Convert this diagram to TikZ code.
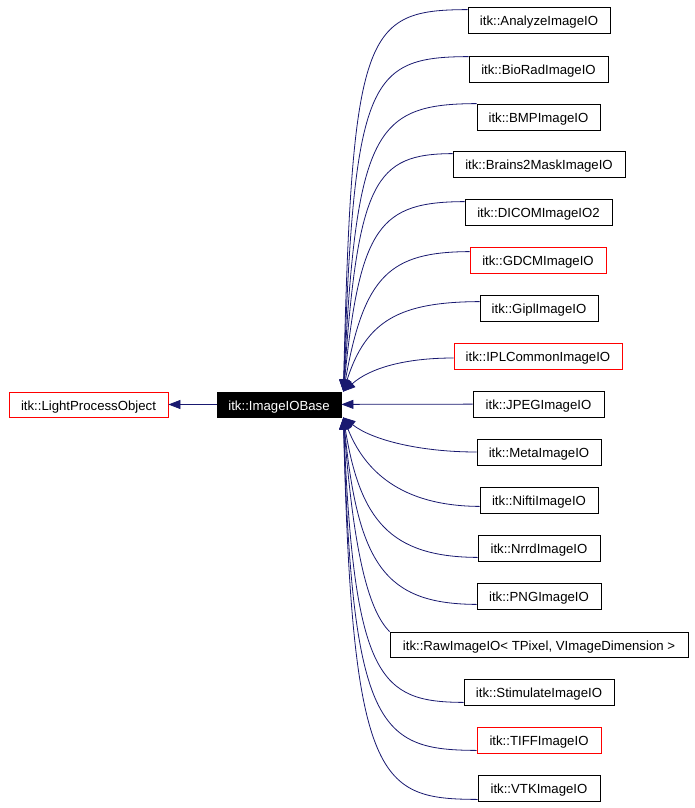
\documentclass[tikz,border=0pt]{standalone}
\usepackage{fontspec}
\setmainfont{Liberation Sans}
\usetikzlibrary{arrows.meta}
\definecolor{edgeblue}{HTML}{191970}
\definecolor{boxred}{HTML}{FF0000}
\tikzset{
  cls/.style={draw=black, fill=white, line width=0.8pt, minimum height=26pt, inner sep=0pt,
    text height=12pt, text depth=0.7pt, font=\fontsize{13.2}{15}\selectfont},
  redcls/.style={cls, draw=boxred},
  basecls/.style={cls, fill=black, text=white, minimum height=25pt},
  edge/.style={draw=edgeblue, line width=0.8pt, -{Triangle[length=12pt,width=9pt]}, fill=none},
}
\begin{document}
\begin{tikzpicture}[x=1pt,y=-1pt]
\fill[white] (0,0) rectangle (695,808);
\useasboundingbox (0,0) rectangle (695,808);

\node[redcls, minimum width=159pt, minimum height=25pt] (lpo) at (88.5,404.5) {itk::LightProcessObject};
\node[basecls, minimum width=124pt] (base) at (279,404.5) {itk::ImageIOBase};

\node[cls, minimum width=142pt] (n1) at (539,20) {itk::AnalyzeImageIO};
\node[cls, minimum width=139pt] (n2) at (538.5,69) {itk::BioRadImageIO};
\node[cls, minimum width=123pt] (n3) at (538.5,117) {itk::BMPImageIO};
\node[cls, minimum width=172pt] (n4) at (539,164) {itk::Brains2MaskImageIO};
\node[cls, minimum width=147pt] (n5) at (538.5,212) {itk::DICOMImageIO2};
\node[redcls, minimum width=136pt] (n6) at (538,260) {itk::GDCMImageIO};
\node[cls, minimum width=118pt] (n7) at (539,308) {itk::GiplImageIO};
\node[redcls, minimum width=168pt] (n8) at (538,356) {itk::IPLCommonImageIO};
\node[cls, minimum width=131pt] (n9) at (538.5,404) {itk::JPEGImageIO};
\node[cls, minimum width=124pt] (n10) at (539,452) {itk::MetaImageIO};
\node[cls, minimum width=118pt] (n11) at (539,500) {itk::NiftiImageIO};
\node[cls, minimum width=122pt] (n12) at (539,548) {itk::NrrdImageIO};
\node[cls, minimum width=124pt] (n13) at (539,596) {itk::PNGImageIO};
\node[cls, minimum width=298pt, minimum height=25pt] (n14) at (539,644.5) {itk::RawImageIO< TPixel, VImageDimension >};
\node[cls, minimum width=150pt] (n15) at (539,692) {itk::StimulateImageIO};
\node[redcls, minimum width=124pt] (n16) at (539,740) {itk::TIFFImageIO};
\node[cls, minimum width=122pt] (n17) at (539,788) {itk::VTKImageIO};

\draw[edge] (base) -- (lpo);

% upper edges
\draw[edge] ([yshift=-3pt]n1.north west) .. controls (365,10) and (352,30) .. ([xshift=2pt]base.north east);
\draw[edge] ([yshift=-1pt]n2.north west) .. controls (368,57) and (354,80) .. ([xshift=2pt]base.north east);
\draw[edge] (n3.north west) .. controls (375,104) and (356,130) .. ([xshift=2pt]base.north east);
\draw[edge] ([yshift=-3pt]n4.north west) .. controls (375,154) and (358,180) .. ([xshift=2pt]base.north east);
\draw[edge] ([yshift=-3pt]n5.north west) .. controls (380,202) and (360,225) .. ([xshift=2pt]base.north east);
\draw[edge] ([yshift=-5pt]n6.north west) .. controls (390,252) and (364,275) .. ([xshift=2pt]base.north east);
\draw[edge] ([yshift=-7pt]n7.north west) .. controls (400,302) and (366,320) .. ([xshift=2pt]base.north east);
\draw[edge] ([yshift=-2pt]n8.west) .. controls (405,358) and (370,368) .. ([xshift=2pt]base.north east);
% middle
\draw[edge] (n9) -- (base);
% lower edges
\draw[edge] (n10.west) .. controls (420,452) and (372,440) .. ([xshift=2pt]base.south east);
\draw[edge] ([yshift=7pt]n11.south west) .. controls (400,506) and (364,470) .. ([xshift=2pt]base.south east);
\draw[edge] ([yshift=4pt]n12.south west) .. controls (390,557) and (360,520) .. ([xshift=2pt]base.south east);
\draw[edge] ([yshift=5pt]n13.south west) .. controls (385,604) and (358,565) .. ([xshift=2pt]base.south east);
\draw[edge] (n14.north west) .. controls (370,612) and (354,560) .. ([xshift=2pt]base.south east);
\draw[edge] ([yshift=3pt]n15.south west) .. controls (380,702) and (354,680) .. ([xshift=2pt]base.south east);
\draw[edge] ([yshift=3pt]n16.south west) .. controls (380,750) and (352,730) .. ([xshift=2pt]base.south east);
\draw[edge] ([yshift=2pt]n17.south west) .. controls (380,799) and (352,785) .. ([xshift=2pt]base.south east);
\end{tikzpicture}
\end{document}
